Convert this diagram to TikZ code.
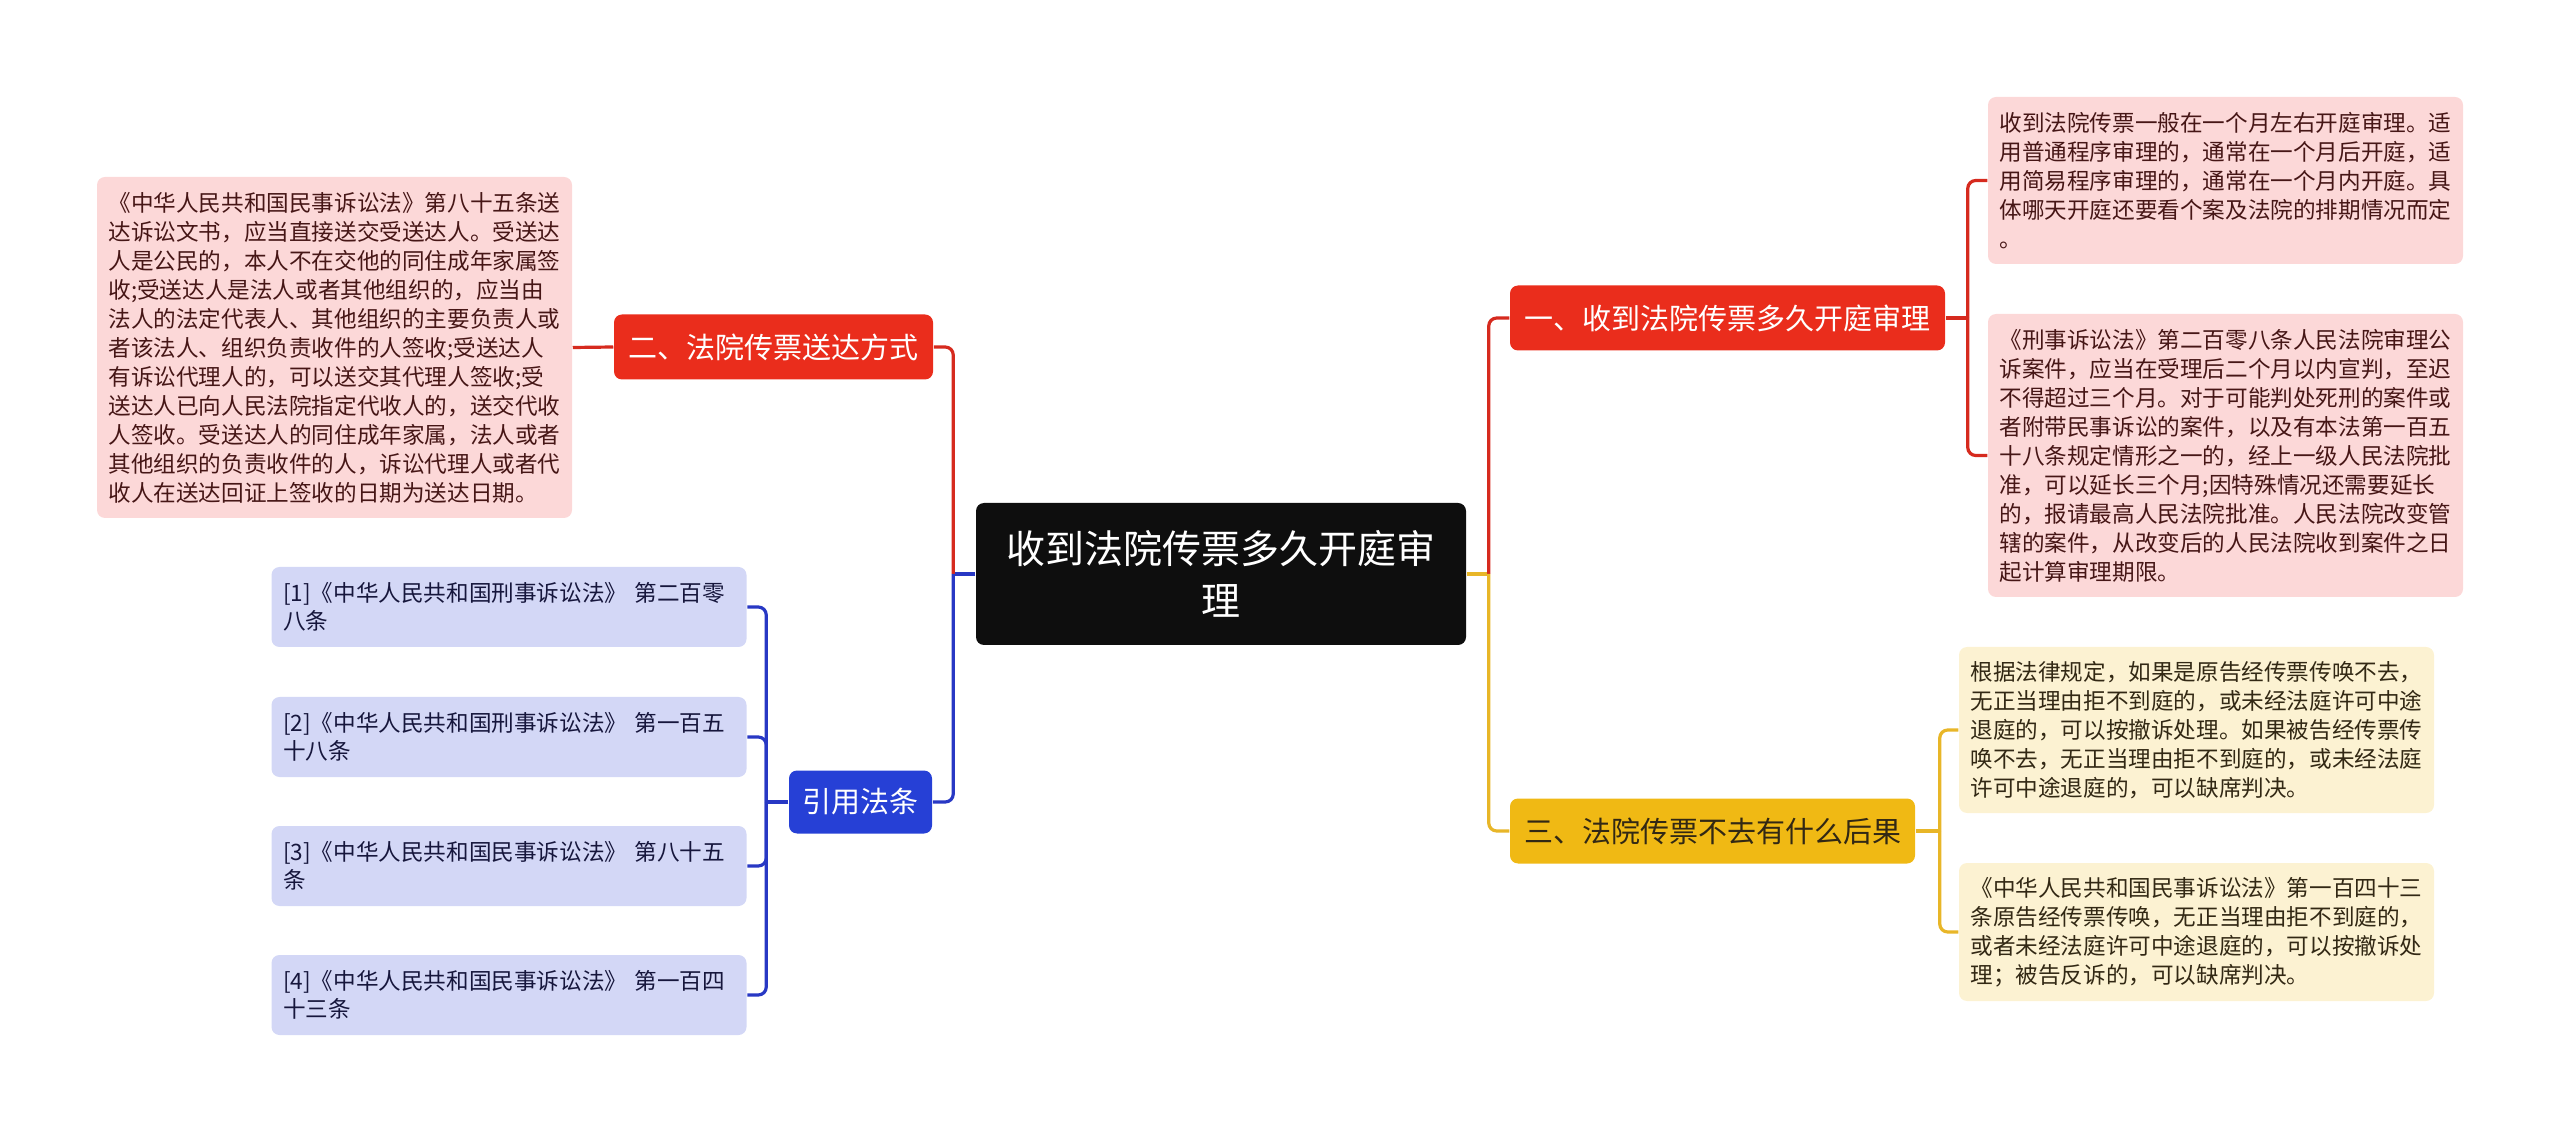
\documentclass[tikz,border=0pt]{standalone}
\usepackage{fontspec}
\newfontfamily\cjk{Noto Sans CJK SC}

\definecolor{rootblack}{RGB}{14,14,14}
\definecolor{topicred}{RGB}{234,45,28}
\definecolor{topicyellow}{RGB}{240,185,20}
\definecolor{topicblue}{RGB}{38,64,214}
\definecolor{linered}{RGB}{214,42,30}
\definecolor{lineyellow}{RGB}{232,182,40}
\definecolor{lineblue}{RGB}{40,56,196}
\definecolor{leafpink}{RGB}{252,216,216}
\definecolor{leafcream}{RGB}{252,242,210}
\definecolor{leaflilac}{RGB}{211,215,246}
\definecolor{txtmaroon}{RGB}{70,22,22}
\definecolor{txtbrown}{RGB}{50,40,20}
\definecolor{txtnavy}{RGB}{22,22,60}

\tikzset{every picture/.style={line width=0.75pt}}
\tikzset{
  rootbox/.style={fill=rootblack, rounded corners=4pt, text=white, align=center,
    minimum width=245pt, minimum height=71pt, inner sep=0pt,
    font=\cjk\fontsize{19.5}{26}\selectfont},
  topicbox/.style={rounded corners=4pt, minimum height=32.5pt, inner sep=0pt,
    font=\cjk\fontsize{14.5}{18}\selectfont},
  leafbox/.style={rounded corners=4pt, text width=226pt, align=left,
    inner xsep=5.75pt, inner ysep=0pt,
    font=\cjk\fontsize{11.3}{14.5}\selectfont},
  citebox/.style={leafbox, fill=leaflilac, text=txtnavy, minimum height=40pt,
    font=\cjk\fontsize{11.3}{14}\selectfont},
  redline/.style={draw=linered, line width=1.6pt},
  yellowline/.style={draw=lineyellow, line width=1.6pt},
  blueline/.style={draw=lineblue, line width=1.6pt}
}

\begin{document}
\begin{tikzpicture}[x=0.5pt,y=0.5pt,yscale=-1,xscale=1]
	\useasboundingbox (0,0) rectangle (2560,1133);

	% Text Node
	\node[rootbox] (root) at (1221,574) {收到法院传票多久开庭审\\理};
	% Text Node
	\node[topicbox, fill=topicred, text=white, minimum width=217.5pt] (t1) at (1727.5,318) {一、收到法院传票多久开庭审理};
	% Text Node
	\node[topicbox, fill=topicyellow, text=txtbrown, minimum width=202.5pt] (t3) at (1712.5,831) {三、法院传票不去有什么后果};
	% Text Node
	\node[topicbox, fill=topicred, text=white, minimum width=159.5pt] (t2) at (773.5,347) {二、法院传票送达方式};
	% Text Node
	\node[topicbox, fill=topicblue, text=white, minimum width=71.5pt, minimum height=31.5pt] (t4) at (860.5,802) {引用法条};

	% Text Node
	\node[leafbox, fill=leafpink, text=txtmaroon, minimum height=83.5pt] (r1a) at (2225.5,180.5) {收到法院传票一般在一个月左右开庭审理。适\\用普通程序审理的，通常在一个月后开庭，适\\用简易程序审理的，通常在一个月内开庭。具\\体哪天开庭还要看个案及法院的排期情况而定\\。};
	% Text Node
	\node[leafbox, fill=leafpink, text=txtmaroon, minimum height=141.5pt] (r1b) at (2225.5,455.5) {《刑事诉讼法》第二百零八条人民法院审理公\\诉案件，应当在受理后二个月以内宣判，至迟\\不得超过三个月。对于可能判处死刑的案件或\\者附带民事诉讼的案件，以及有本法第一百五\\十八条规定情形之一的，经上一级人民法院批\\准，可以延长三个月;因特殊情况还需要延长\\的，报请最高人民法院批准。人民法院改变管\\辖的案件，从改变后的人民法院收到案件之日\\起计算审理期限。};
	% Text Node
	\node[leafbox, fill=leafcream, text=txtbrown, minimum height=83pt] (r3a) at (2196.5,730) {根据法律规定，如果是原告经传票传唤不去，\\无正当理由拒不到庭的，或未经法庭许可中途\\退庭的，可以按撤诉处理。如果被告经传票传\\唤不去，无正当理由拒不到庭的，或未经法庭\\许可中途退庭的，可以缺席判决。};
	% Text Node
	\node[leafbox, fill=leafcream, text=txtbrown, minimum height=69pt] (r3b) at (2196.5,932) {《中华人民共和国民事诉讼法》第一百四十三\\条原告经传票传唤，无正当理由拒不到庭的，\\或者未经法庭许可中途退庭的，可以按撤诉处\\理；被告反诉的，可以缺席判决。};
	% Text Node
	\node[leafbox, fill=leafpink, text=txtmaroon, minimum height=170.5pt] (l2a) at (334.5,347.5) {《中华人民共和国民事诉讼法》第八十五条送\\达诉讼文书，应当直接送交受送达人。受送达\\人是公民的，本人不在交他的同住成年家属签\\收;受送达人是法人或者其他组织的，应当由\\法人的法定代表人、其他组织的主要负责人或\\者该法人、组织负责收件的人签收;受送达人\\有诉讼代理人的，可以送交其代理人签收;受\\送达人已向人民法院指定代收人的，送交代收\\人签收。受送达人的同住成年家属，法人或者\\其他组织的负责收件的人，诉讼代理人或者代\\收人在送达回证上签收的日期为送达日期。};

	% Text Node
	\node[citebox] (c1) at (509,607) {[1]《中华人民共和国刑事诉讼法》 第二百零\\八条};
	% Text Node
	\node[citebox] (c2) at (509,737) {[2]《中华人民共和国刑事诉讼法》 第一百五\\十八条};
	% Text Node
	\node[citebox] (c3) at (509,866) {[3]《中华人民共和国民事诉讼法》 第八十五\\条};
	% Text Node
	\node[citebox] (c4) at (509,995) {[4]《中华人民共和国民事诉讼法》 第一百四\\十三条};

	%Straight Lines
	\draw[yellowline] (root.east) -- ++(22,0) coordinate (rj);
	\draw[redline, rounded corners=4pt] (rj) |- (t1.west);
	\draw[yellowline, rounded corners=4pt] (rj) |- (t3.west);
	%Straight Lines
	\draw[blueline] (root.west) -- ++(-22,0) coordinate (lj);
	\draw[redline, rounded corners=4pt] (lj) |- (t2.east);
	\draw[blueline, rounded corners=4pt] (lj) |- (t4.east);
	%Straight Lines
	\draw[redline] (t1.east) -- ++(22,0) coordinate (t1j);
	\draw[redline, rounded corners=4pt] (t1j) |- (r1a.west);
	\draw[redline, rounded corners=4pt] (t1j) |- (r1b.west);
	%Straight Lines
	\draw[yellowline] (t3.east) -- ++(24,0) coordinate (t3j);
	\draw[yellowline, rounded corners=4pt] (t3j) |- (r3a.west);
	\draw[yellowline, rounded corners=4pt] (t3j) |- (r3b.west);
	%Straight Lines
	\draw[redline] (t2.west) -- (l2a.east);
	%Straight Lines
	\draw[blueline] (t4.west) -- ++(-22,0) coordinate (t4j);
	\draw[blueline, rounded corners=4pt] (t4j) |- (c1.east);
	\draw[blueline, rounded corners=4pt] (t4j) |- (c2.east);
	\draw[blueline, rounded corners=4pt] (t4j) |- (c3.east);
	\draw[blueline, rounded corners=4pt] (t4j) |- (c4.east);

\end{tikzpicture}
\end{document}
